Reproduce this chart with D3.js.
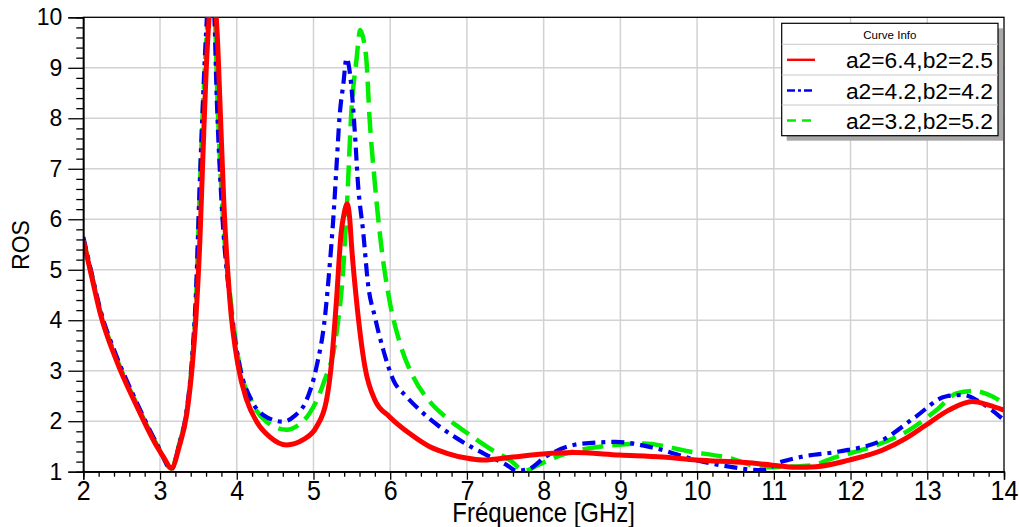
<!DOCTYPE html>
<html>
<head>
<meta charset="utf-8">
<script src="https://cdn.jsdelivr.net/npm/d3@7"></script>
<style>
  html, body { margin: 0; padding: 0; background: #fff; }
  svg { display: block; font-family: "Liberation Sans", Arial, sans-serif; }
</style>
</head>
<body>
<svg id="chart" width="1019" height="527"></svg>
<script>
// ---- Data ----
const seriesNames = ["a2=6.4,b2=2.5", "a2=4.2,b2=4.2", "a2=3.2,b2=5.2"];
const xTickLabels = [2, 3, 4, 5, 6, 7, 8, 9, 10, 11, 12, 13, 14];
const yTickLabels = [1, 2, 3, 4, 5, 6, 7, 8, 9, 10];

const freqRed = [2.00, 2.11, 2.22, 2.43, 2.70, 2.96, 3.05, 3.15, 3.25, 3.35, 3.42, 3.47, 3.52, 3.56, 3.60, 3.64, 3.68, 3.745, 3.78, 3.83, 3.91, 4.02, 4.13, 4.26, 4.43, 4.65, 4.86, 5.04, 5.17, 5.23, 5.30, 5.36, 5.40, 5.44, 5.47, 5.50, 5.56, 5.67, 5.80, 5.99, 6.25, 6.51, 6.75, 6.99, 7.21, 7.60, 7.99, 8.38, 8.99, 9.55, 9.99, 10.64, 10.98, 11.29, 11.55, 11.98, 12.42, 12.72, 12.98, 13.28, 13.59, 13.80, 14.00];
const rosRed  = [5.58, 4.86, 4.14, 3.21, 2.29, 1.50, 1.28, 1.07, 1.50, 2.16, 3.10, 4.10, 5.60, 7.30, 8.90, 10.0, 10.6, 9.68, 8.36, 6.38, 4.40, 3.08, 2.42, 1.99, 1.69, 1.53, 1.63, 1.89, 2.42, 3.08, 4.40, 5.72, 6.12, 6.30, 6.05, 5.40, 4.40, 3.08, 2.42, 2.09, 1.76, 1.50, 1.36, 1.27, 1.23, 1.29, 1.35, 1.38, 1.33, 1.29, 1.23, 1.18, 1.13, 1.09, 1.10, 1.23, 1.43, 1.66, 1.92, 2.22, 2.39, 2.32, 2.22];

const freqBlue = [2.00, 2.11, 2.22, 2.43, 2.70, 2.96, 3.15, 3.25, 3.35, 3.42, 3.47, 3.51, 3.56, 3.60, 3.65, 3.70, 3.74, 3.80, 3.91, 4.04, 4.19, 4.35, 4.60, 4.75, 4.91, 5.04, 5.15, 5.21, 5.26, 5.30, 5.34, 5.39, 5.43, 5.49, 5.54, 5.58, 5.65, 5.71, 5.80, 5.91, 6.04, 6.21, 6.40, 6.62, 6.85, 7.08, 7.30, 7.51, 7.65, 7.80, 8.03, 8.47, 8.94, 9.47, 9.99, 10.42, 10.85, 11.11, 11.38, 11.85, 12.42, 12.85, 13.24, 13.46, 13.72, 14.00];
const rosBlue  = [5.65, 4.92, 4.22, 3.30, 2.36, 1.55, 1.05, 1.55, 2.25, 3.30, 4.60, 6.38, 8.36, 9.68, 10.8, 10.3, 8.36, 6.38, 4.40, 3.08, 2.42, 2.12, 1.99, 2.10, 2.42, 3.08, 4.07, 5.06, 6.05, 7.04, 8.03, 8.69, 9.19, 8.69, 7.70, 6.71, 5.72, 4.73, 4.07, 3.41, 2.82, 2.49, 2.20, 1.92, 1.68, 1.47, 1.30, 1.14, 1.02, 1.05, 1.30, 1.55, 1.59, 1.46, 1.23, 1.10, 1.03, 1.20, 1.30, 1.40, 1.63, 2.09, 2.49, 2.52, 2.35, 2.02];

const freqGreen = [2.00, 2.11, 2.22, 2.43, 2.70, 2.96, 3.15, 3.25, 3.35, 3.42, 3.47, 3.51, 3.56, 3.61, 3.66, 3.71, 3.75, 3.81, 3.92, 4.04, 4.19, 4.38, 4.65, 4.80, 4.95, 5.13, 5.30, 5.39, 5.45, 5.49, 5.56, 5.61, 5.66, 5.69, 5.73, 5.80, 5.89, 5.99, 6.12, 6.30, 6.51, 6.75, 6.99, 7.36, 7.56, 7.75, 7.95, 8.29, 8.47, 8.94, 9.29, 9.90, 10.42, 10.85, 11.20, 11.51, 11.77, 12.29, 12.77, 13.12, 13.38, 13.59, 13.85, 14.00];
const rosGreen  = [5.60, 4.90, 4.18, 3.26, 2.33, 1.53, 1.06, 1.55, 2.20, 3.20, 4.40, 6.20, 8.20, 9.70, 10.7, 10.2, 8.30, 6.30, 4.40, 3.08, 2.40, 2.00, 1.83, 1.92, 2.16, 2.75, 3.74, 5.06, 6.71, 8.03, 9.15, 9.75, 9.50, 9.15, 8.03, 6.71, 5.39, 4.40, 3.58, 2.88, 2.40, 2.05, 1.78, 1.40, 1.23, 1.02, 1.15, 1.36, 1.43, 1.53, 1.56, 1.40, 1.27, 1.09, 1.10, 1.13, 1.27, 1.50, 1.83, 2.22, 2.55, 2.60, 2.49, 2.35];

// ---- Layout ----
const svg = d3.select("#chart");
const pLeft = 83.3, pRight = 1004, pTop = 17.3, pBottom = 471.7;

const x = d3.scaleLinear().domain([2, 14]).range([pLeft, pRight]);
const y = d3.scaleLinear().domain([1, 10]).range([pBottom, pTop]);

svg.append("defs").append("clipPath").attr("id", "plotclip")
  .append("rect").attr("x", pLeft).attr("y", pTop).attr("width", pRight - pLeft).attr("height", pBottom - pTop);

// grid
const grid = svg.append("g").attr("class", "grid");
grid.selectAll("line.gx").data(xTickLabels.slice(1, -1)).enter().append("line")
  .attr("x1", d => x(d)).attr("x2", d => x(d)).attr("y1", pTop).attr("y2", pBottom)
  .attr("stroke", "#d2d2d2").attr("stroke-width", 1.5);
grid.selectAll("line.gy").data(yTickLabels.slice(1, -1)).enter().append("line")
  .attr("y1", d => y(d)).attr("y2", d => y(d)).attr("x1", pLeft).attr("x2", pRight)
  .attr("stroke", "#d2d2d2").attr("stroke-width", 1.5);

// frame
svg.append("rect").attr("x", pLeft).attr("y", pTop).attr("width", pRight - pLeft).attr("height", pBottom - pTop)
  .attr("fill", "none").attr("stroke", "#000").attr("stroke-width", 1.3);

// curves
const line = d3.line().x(d => x(d[0])).y(d => y(d[1])).curve(d3.curveMonotoneX);
const curves = svg.append("g").attr("clip-path", "url(#plotclip)");
const series = [
  { f: freqGreen, v: rosGreen, color: "#00ee00", w: 4.5, dash: "21,9" },
  { f: freqBlue, v: rosBlue, color: "#0000f0", w: 4.2, dash: "13,6,4,6" },
  { f: freqRed, v: rosRed, color: "#ff0000", w: 5, dash: null }
];
series.forEach(s => {
  const pts = s.f.map((fv, i) => [fv, s.v[i]]);
  curves.append("path").datum(pts).attr("d", line)
    .attr("fill", "none").attr("stroke", s.color).attr("stroke-width", s.w)
    .attr("stroke-dasharray", s.dash).attr("stroke-linejoin", "round");
});

// axes
const minorY = d3.range(1, 10.001, 0.2).filter(v => Math.abs(v - Math.round(v)) > 0.01);
const minorX = d3.range(2, 14.001, 0.2).filter(v => Math.abs(v - Math.round(v)) > 0.01);

const yAxisMinor = svg.append("g").attr("transform", `translate(${pLeft},0)`)
  .call(d3.axisLeft(y).tickValues(minorY).tickSize(7).tickFormat(""));
const yAxis = svg.append("g").attr("transform", `translate(${pLeft},0)`)
  .call(d3.axisLeft(y).tickValues(yTickLabels).tickSize(15).tickPadding(6).tickFormat(d3.format("d")));
const xAxisMinor = svg.append("g").attr("transform", `translate(0,${pBottom})`)
  .call(d3.axisBottom(x).tickValues(minorX).tickSize(5).tickFormat(""));
const xAxis = svg.append("g").attr("transform", `translate(0,${pBottom})`)
  .call(d3.axisBottom(x).tickValues(xTickLabels).tickSize(8).tickFormat(d3.format("d")));

[yAxisMinor, yAxis, xAxisMinor, xAxis].forEach(g => {
  g.select(".domain").attr("stroke", "#000").attr("stroke-width", 1.3);
  g.selectAll(".tick line").attr("stroke", "#000").attr("stroke-width", 1.3);
});
yAxis.selectAll("text").attr("font-size", 23).attr("fill", "#000")
  .attr("font-family", "Liberation Sans, Arial, sans-serif");
xAxis.selectAll("text").attr("font-size", 25).attr("fill", "#000")
  .attr("font-family", "Liberation Sans, Arial, sans-serif")
  .attr("y", 0).attr("dy", 0)
  .attr("transform", "translate(0,28.3) scale(1,1.14)");

// axis titles
svg.append("text").attr("font-size", 24).attr("text-anchor", "middle")
  .attr("transform", `translate(${(pLeft + pRight) / 2},521.5) scale(1,1.12)`)
  .text("Fréquence [GHz]");
svg.append("text").attr("font-size", 23).attr("text-anchor", "middle")
  .attr("transform", `translate(28.5,245) rotate(-90)`)
  .text("ROS");

// legend
const lg = svg.append("g");
const lx = 781.7, ly = 23.3, lw = 216.3, lh = 112.4;
lg.append("rect").attr("x", lx + 5).attr("y", ly + 5).attr("width", lw).attr("height", lh).attr("fill", "#a8a8a8");
lg.append("rect").attr("x", lx).attr("y", ly).attr("width", lw).attr("height", lh).attr("fill", "#fff")
  .attr("stroke", "#000").attr("stroke-width", 1.2);
lg.append("text").attr("x", lx + lw / 2).attr("y", 39).attr("text-anchor", "middle")
  .attr("font-size", 11.5).text("Curve Info");
const rowTops = [44.3, 75, 105];
rowTops.forEach(r => {
  lg.append("line").attr("x1", lx).attr("x2", lx + lw).attr("y1", r).attr("y2", r)
    .attr("stroke", "#c8c8c8").attr("stroke-width", 1);
});
const legendDash = [null, "8,3,3,3", "9,6"];
const legendColor = ["#ff0000", "#0000f0", "#00ee00"];
seriesNames.forEach((n, i) => {
  const cy = rowTops[i] + 15.5;
  lg.append("line").attr("x1", 787).attr("x2", 815).attr("y1", cy).attr("y2", cy)
    .attr("stroke", legendColor[i]).attr("stroke-width", 2.4).attr("stroke-dasharray", legendDash[i]);
  lg.append("text").attr("x", 993).attr("y", cy + 8).attr("text-anchor", "end")
    .attr("font-size", 22.8).attr("fill", "#000").text(n);
});
</script>
</body>
</html>
